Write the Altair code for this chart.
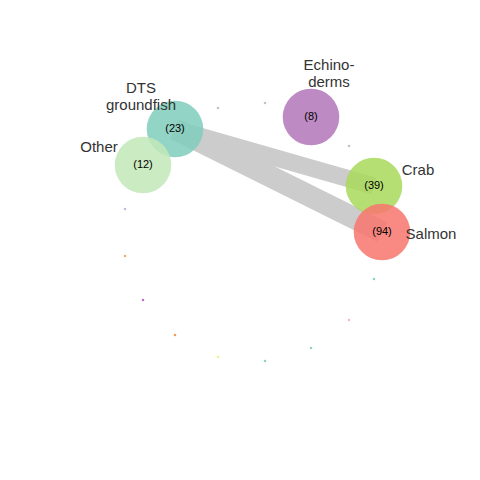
import altair as alt
import pandas as pd

# node layout (chart coordinates) and sizes
names = ["DTS groundfish", "Other", "Echinoderms", "Crab", "Salmon"]
counts = [23, 12, 8, 39, 94]
node_x = [175, 143, 311, 374, 382]
node_y = [129, 165, 117, 186, 232]
colors = ["#7fcdbb", "#c2e8b8", "#b175b8", "#a8d95a", "#f8766d"]

label_text = ["DTS\ngroundfish", "Other", "Echino-\nderms", "Crab", "Salmon"]
label_x = [141, 99, 329, 418, 431]
label_y = [88, 147, 65, 170, 234]

edge_from = [0, 0]
edge_to = [3, 4]
edge_w = [17, 22]

dot_x = [218, 265, 349, 125, 125, 143, 175, 218, 265, 311, 349, 374]
dot_y = [108, 103, 146, 209, 256, 300, 335, 357, 361, 348, 320, 279]
dot_c = ["#bbbbbb", "#bbbbbb", "#bbbbbb", "#b8b0e0", "#f5a050", "#b060c0",
         "#f59040", "#f0f080", "#80d0b0", "#80d0b0", "#f0b0d0", "#80d0b0"]

nodes = pd.DataFrame({"name": names, "x": node_x, "y": node_y, "c": colors,
                      "cnt": [f"({n})" for n in counts]})
labels = pd.DataFrame({"t": label_text, "x": label_x, "y": label_y})
edges = pd.DataFrame({"x": [node_x[i] for i in edge_from], "y": [node_y[i] for i in edge_from],
                      "x2": [node_x[i] for i in edge_to], "y2": [node_y[i] for i in edge_to],
                      "w": edge_w})
dots = pd.DataFrame({"x": dot_x, "y": dot_y, "c": dot_c})

X = alt.Scale(domain=[8, 472])
Y = alt.Scale(domain=[8, 472], reverse=True)
xe = alt.X("x:Q", scale=X, axis=None)
ye = alt.Y("y:Q", scale=Y, axis=None)

edge_layer = alt.Chart(edges).mark_rule(color="#cccccc", strokeCap="butt").encode(
    x=xe, y=ye, x2="x2:Q", y2="y2:Q",
    strokeWidth=alt.StrokeWidth("w:Q", scale=None, legend=None))

dot_layer = alt.Chart(dots).mark_square(size=5, opacity=0.9).encode(
    x=xe, y=ye, color=alt.Color("c:N", scale=None))

node_layer = alt.Chart(nodes).mark_circle(size=3200, opacity=0.85).encode(
    x=xe, y=ye, color=alt.Color("c:N", scale=None))

count_layer = alt.Chart(nodes).mark_text(fontSize=11, color="black", font="Liberation Sans").encode(
    x=xe, y=ye, text="cnt:N")

label_layer = alt.Chart(labels).mark_text(fontSize=15, color="#333333", lineBreak="\n",
                                          font="Liberation Sans").encode(
    x=xe, y=ye, text="t:N")

chart = alt.layer(edge_layer, dot_layer, node_layer, count_layer, label_layer).properties(
    width=464, height=464, padding=0, autosize="none"
).configure_view(stroke=None)

chart.save("out.html", embed_options={"renderer": "svg", "actions": False})
